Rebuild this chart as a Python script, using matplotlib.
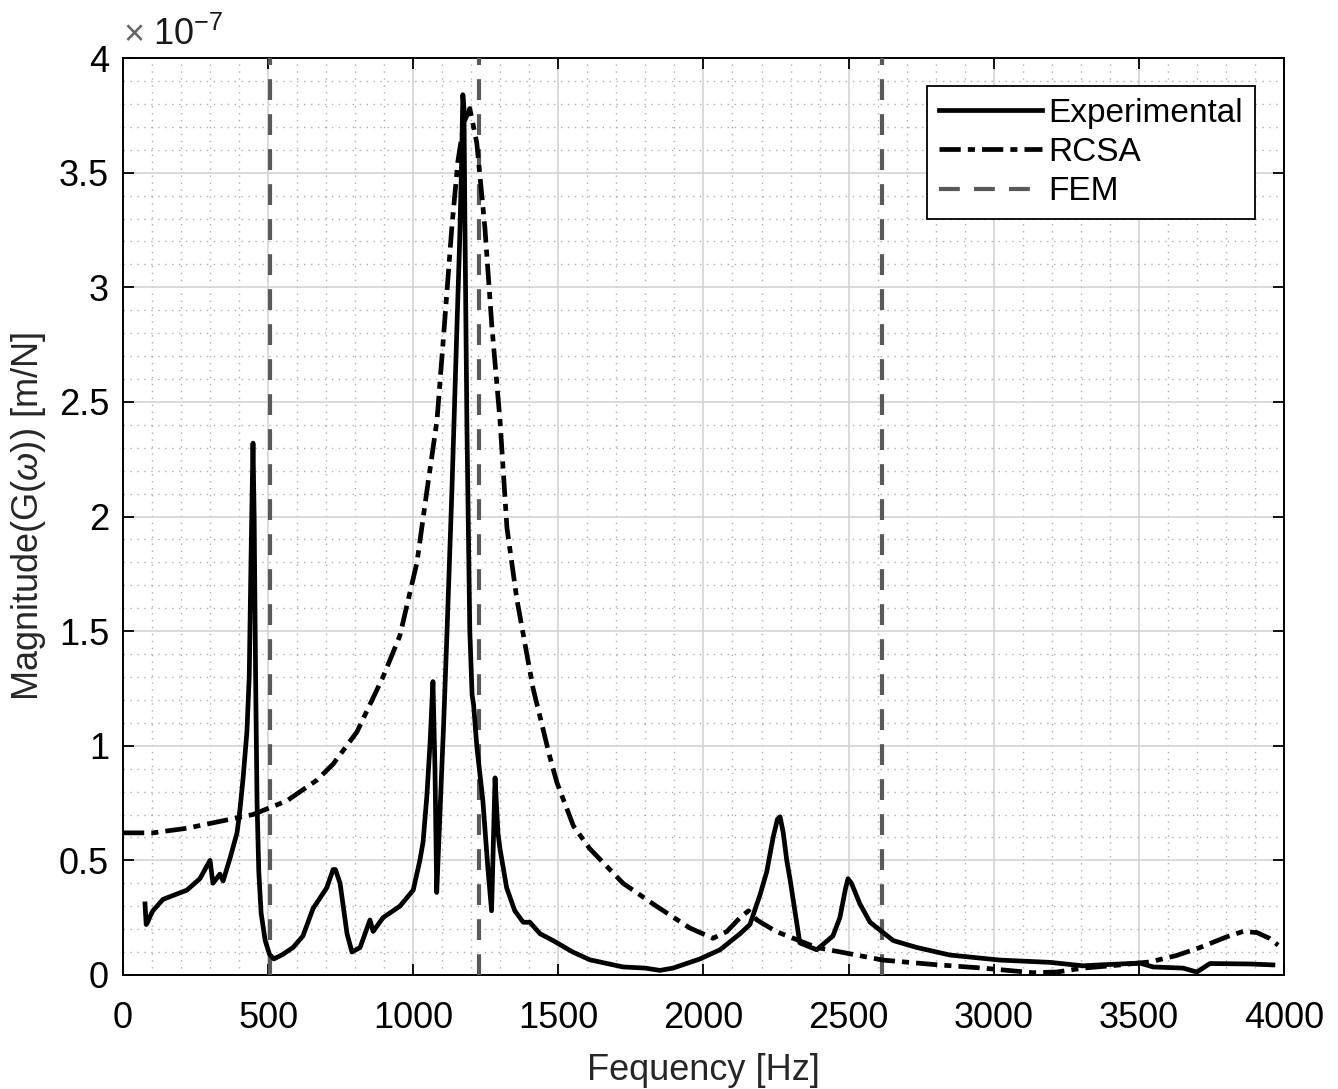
import matplotlib
matplotlib.use("Agg")
import matplotlib.pyplot as plt
from matplotlib.ticker import MultipleLocator

plt.rcParams['font.family'] = ['Liberation Sans', 'DejaVu Sans']
plt.rcParams['mathtext.fontset'] = 'custom'
plt.rcParams['mathtext.rm'] = 'Liberation Sans'
plt.rcParams['mathtext.it'] = 'Liberation Sans:italic'

# ---- data (frequency in Hz, magnitude in units of 1e-7 m/N) ----
exp_f = [76, 80, 85, 95, 103, 138, 220, 265, 300, 310, 334, 345, 369, 393, 403,
         414, 427, 435, 441, 448, 452, 457, 462, 468, 476, 490, 505, 520, 551, 586,
         620, 655, 702, 724, 732, 748, 772, 789, 817, 851, 862, 896, 954, 1000,
         1023, 1034, 1047, 1058, 1068, 1075, 1081, 1092, 1105, 1116, 1133, 1150,
         1160, 1166, 1171, 1175, 1178, 1185, 1195, 1203, 1208, 1219, 1240, 1257,
         1270, 1282, 1292, 1299, 1322, 1350, 1379, 1402, 1437, 1482, 1550, 1609,
         1723, 1800, 1850, 1895, 1988, 2057, 2126, 2160, 2195, 2218, 2240, 2255,
         2264, 2275, 2287, 2298, 2332, 2390, 2446, 2470, 2490, 2498, 2510, 2539,
         2574, 2654, 2735, 2849, 3022, 3194, 3308, 3366, 3504, 3549, 3652, 3700,
         3745, 3883, 3962]
exp_v = [0.31, 0.22, 0.23, 0.26, 0.28, 0.33, 0.37, 0.42, 0.50, 0.40, 0.44, 0.41,
         0.51, 0.62, 0.72, 0.86, 1.06, 1.30, 1.80, 2.32, 2.00, 1.30, 0.75, 0.45,
         0.27, 0.15, 0.09, 0.07, 0.09, 0.12, 0.17, 0.29, 0.38, 0.46, 0.46, 0.40,
         0.18, 0.10, 0.12, 0.24, 0.19, 0.25, 0.30, 0.37, 0.50, 0.58, 0.78, 1.01,
         1.28, 0.90, 0.36, 0.70, 1.10, 1.48, 2.10, 2.80, 3.20, 3.50, 3.84, 3.78,
         3.30, 2.40, 1.50, 1.22, 1.18, 1.00, 0.76, 0.47, 0.28, 0.86, 0.62, 0.55,
         0.38, 0.28, 0.23, 0.23, 0.18, 0.15, 0.10, 0.066, 0.035, 0.03, 0.02,
         0.03, 0.07, 0.11, 0.18, 0.22, 0.35, 0.45, 0.60, 0.68, 0.69, 0.62, 0.50,
         0.42, 0.14, 0.11, 0.17, 0.25, 0.38, 0.42, 0.40, 0.31, 0.23, 0.15, 0.12,
         0.087, 0.065, 0.055, 0.04, 0.044, 0.052, 0.035, 0.03, 0.013, 0.05, 0.048,
         0.044]

rcsa_f = [0, 103, 220, 334, 448, 565, 668, 724, 806, 896, 954, 1013, 1047, 1082,
          1103, 1133, 1154, 1175, 1195, 1219, 1247, 1271, 1299, 1323, 1357, 1413,
          1471, 1495, 1552, 1609, 1723, 1838, 1953, 2033, 2081, 2126, 2155, 2184,
          2250, 2390, 2618, 2800, 2963, 3135, 3218, 3308, 3420, 3538, 3630, 3711,
          3800, 3859, 3907, 3950, 3980]
rcsa_v = [0.62, 0.62, 0.64, 0.67, 0.70, 0.76, 0.85, 0.92, 1.06, 1.30, 1.48, 1.80,
          2.11, 2.42, 2.76, 3.26, 3.55, 3.72, 3.78, 3.63, 3.26, 2.83, 2.42, 1.95,
          1.64, 1.25, 0.95, 0.84, 0.65, 0.55, 0.40, 0.30, 0.205, 0.16, 0.19, 0.25,
          0.28, 0.24, 0.19, 0.12, 0.065, 0.045, 0.03, 0.01, 0.013, 0.03, 0.042,
          0.057, 0.085, 0.12, 0.165, 0.19, 0.185, 0.16, 0.13]

fem_f = [506, 1227, 2615]

x_ticks = [0, 500, 1000, 1500, 2000, 2500, 3000, 3500, 4000]
y_ticks = [0, 0.5, 1, 1.5, 2, 2.5, 3, 3.5, 4]
y_tick_labels = ['0', '0.5', '1', '1.5', '2', '2.5', '3', '3.5', '4']

# ---- figure ----
fig = plt.figure(figsize=(13.38, 10.89), dpi=100)
ax = fig.add_axes([0.0919, 0.1047, 0.8677, 0.8420])

fem_color = (0.35, 0.35, 0.35)
for i, f in enumerate(fem_f):
    ax.axvline(f, color=fem_color, lw=3.0, dashes=(5.0, 3.4),
               label='FEM' if i == 0 else None, zorder=3)

ax.plot(rcsa_f, rcsa_v, color='black', lw=3.4, dashes=(4.5, 1.5, 1.5, 1.5),
        label='RCSA', zorder=4)
ax.plot(exp_f, exp_v, color='black', lw=3.4, solid_joinstyle='round',
        label='Experimental', zorder=5)

ax.set_xlim(0, 4000)
ax.set_ylim(0, 4)
ax.set_xticks(x_ticks)
ax.set_yticks(y_ticks)
ax.set_yticklabels(y_tick_labels)
ax.xaxis.set_minor_locator(MultipleLocator(100))
ax.yaxis.set_minor_locator(MultipleLocator(0.1))
ax.grid(True, which='major', color=(0.82, 0.82, 0.82), lw=1.1, zorder=0)
ax.grid(True, which='minor', color=(0.68, 0.68, 0.68), lw=1.0,
        linestyle=(0, (1, 4)), zorder=0)
ax.set_axisbelow(True)
ax.tick_params(which='major', direction='in', length=8, width=1.3,
               top=True, right=True, labelsize=26, colors='black')
ax.tick_params(axis='x', which='major', pad=19)
ax.tick_params(axis='y', which='major', pad=10)
ax.tick_params(which='minor', length=0, top=True, right=True)
for s in ax.spines.values():
    s.set_linewidth(1.4)
    s.set_color('black')

ax.set_xlabel('Fequency [Hz]', fontsize=26, labelpad=12, color=(0.15, 0.15, 0.15))
ax.set_ylabel(r'Magnitude(G($\omega$)) [m/N]', fontsize=26, labelpad=8,
              color=(0.15, 0.15, 0.15))

ax.text(0.0, 1.008, r'$\times$', transform=ax.transAxes, fontsize=26,
        color=(0.4, 0.4, 0.4), ha='left', va='bottom')
ax.text(0.026, 1.006, r'10$^{\mathregular{-7}}$', transform=ax.transAxes,
        fontsize=26, color=(0.1, 0.1, 0.1), ha='left', va='bottom')

handles, labels = ax.get_legend_handles_labels()
order = [labels.index('Experimental'), labels.index('RCSA'), labels.index('FEM')]
leg = ax.legend([handles[i] for i in order], [labels[i] for i in order],
                loc='upper right', bbox_to_anchor=(0.975, 0.9695),
                borderaxespad=0, fontsize=24, handlelength=3.1,
                handletextpad=0.2, labelspacing=0.25, borderpad=0.35,
                fancybox=False, framealpha=1, edgecolor='black')
leg.get_frame().set_linewidth(1.3)

fig.savefig('out.png', dpi=100)
